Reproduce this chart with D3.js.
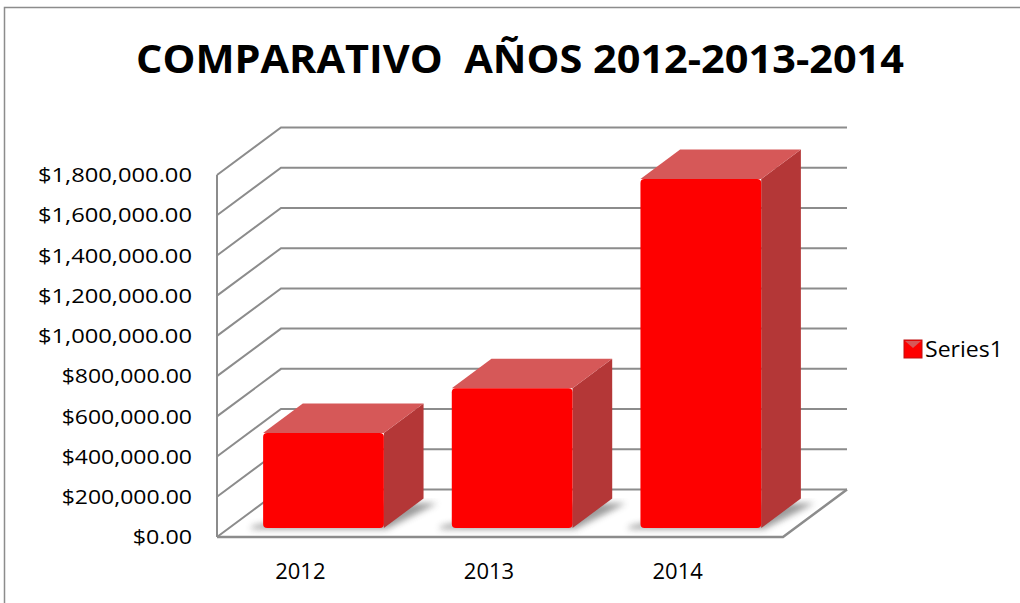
<!DOCTYPE html>
<html>
<head>
<meta charset="utf-8">
<script src="https://cdn.jsdelivr.net/npm/d3@7"></script>
<style>
  body { margin: 0; background: #fff; }
  text { font-family: "Open Sans", "Noto Sans", sans-serif; fill: #000; }
</style>
</head>
<body>
<div id="chart"></div>
<script>
var years = ["2012", "2013", "2014"];
var totals = [472000, 695000, 1735000];
var yTicks = [0, 200000, 400000, 600000, 800000, 1000000, 1200000, 1400000, 1600000, 1800000];
var seriesName = "Series1";
var title = "COMPARATIVO  A\u00d1OS 2012-2013-2014";

var width = 1020, height = 603;

// oblique 3d box: front floor edge, and how far the back wall sits
var left = 217, right = 783, floorY = 537,
    DX = 64, DY = 47.5,
    f0 = 0.19, f1 = 0.81;

var svg = d3.select("#chart").append("svg")
    .attr("width", width)
    .attr("height", height);

var defs = svg.append("defs");
defs.append("filter")
    .attr("id", "blur")
    .attr("x", "-20%").attr("y", "-20%").attr("width", "140%").attr("height", "140%")
  .append("feGaussianBlur")
    .attr("stdDeviation", 3);

// outer frame
svg.append("rect")
    .attr("x", 4.5).attr("y", 7.5)
    .attr("width", width + 10).attr("height", height + 10)
    .attr("fill", "none")
    .attr("stroke", "#8c8c8c")
    .attr("stroke-width", 1.5);

var y = d3.scaleLinear()
    .domain([0, 1800000])
    .range([0, 362]);

var x = d3.scaleBand()
    .domain(years)
    .range([left, right])
    .paddingInner(0.36)
    .paddingOuter(0.18);

function proj(px, v, f) {
  return [px + f * DX, floorY - f * DY - y(v)];
}
function pts(arr) {
  return arr.map(function(p) { return p.join(","); }).join(" ");
}

var format = d3.format("$,.2f");

// gridlines: front-left wall diagonal + back wall horizontal
var grid = svg.append("g")
    .attr("fill", "none")
    .attr("stroke", "#8c8c8c")
    .attr("stroke-width", 2);

grid.selectAll("polyline.grid")
    .data(yTicks)
  .enter().append("polyline")
    .attr("class", "grid")
    .attr("points", function(d) {
      return pts([proj(left, d, 0), proj(left, d, 1), proj(right, d, 1)]);
    });

// left wall front edge
grid.append("line")
    .attr("x1", left).attr("y1", proj(left, 1800000, 0)[1])
    .attr("x2", left).attr("y2", floorY);

// floor front + right edge
grid.append("polyline")
    .attr("stroke-width", 2.5)
    .attr("points", pts([proj(left, 0, 0), proj(right, 0, 0), proj(right, 0, 1)]));

// y labels (stretched to the wide look of the original)
svg.append("g")
  .selectAll("text")
    .data(yTicks)
  .enter().append("text")
    .attr("x", 192)
    .attr("y", function(d) { return floorY - y(d); })
    .attr("dy", "0.36em")
    .attr("text-anchor", "end")
    .style("font-size", "20px")
    .text(format)
    .attr("textLength", function() { return this.textContent.length * 11.85; })
    .attr("lengthAdjust", "spacingAndGlyphs");

// x labels
svg.append("g")
  .selectAll("text")
    .data(years)
  .enter().append("text")
    .attr("x", function(d) { return x(d) + x.bandwidth() / 2 - 11; })
    .attr("y", 571)
    .attr("dy", "0.36em")
    .attr("text-anchor", "middle")
    .style("font-size", "22px")
    .text(function(d) { return d; });

// bars
var bars = svg.append("g")
  .selectAll("g.bar")
    .data(years.map(function(d, i) { return [d, totals[i]]; }))
  .enter().append("g")
    .attr("class", "bar");

bars.append("polygon")
    .attr("fill", "#5a5a5a")
    .attr("opacity", 0.6)
    .attr("filter", "url(#blur)")
    .attr("points", function(d) {
      var a = x(d[0]), b = a + x.bandwidth();
      return pts([proj(a - 12, 0, f0 - 0.02), proj(b + 4, 0, f0 - 0.02), proj(b + 20, 0, f1 - 0.1), proj(b - 30, 0, f1 - 0.1), proj(a - 12, 0, f0 + 0.05)]);
    });

bars.append("polygon")
    .attr("fill", "#b43737")
    .attr("points", function(d) {
      var b = x(d[0]) + x.bandwidth();
      return pts([proj(b, d[1], f0), proj(b, d[1], f1), proj(b, 0, f1), proj(b, 0, f0)]);
    });

bars.append("polygon")
    .attr("fill", "#d65858")
    .attr("points", function(d) {
      var a = x(d[0]), b = a + x.bandwidth();
      return pts([proj(a, d[1], f0), proj(b, d[1], f0), proj(b, d[1], f1), proj(a, d[1], f1)]);
    });

bars.append("rect")
    .attr("fill", "#fe0000")
    .attr("rx", 4)
    .attr("x", function(d) { return proj(x(d[0]), d[1], f0)[0]; })
    .attr("y", function(d) { return proj(x(d[0]), d[1], f0)[1]; })
    .attr("width", x.bandwidth())
    .attr("height", function(d) { return y(d[1]); });

// title
svg.append("text")
    .attr("x", 520)
    .attr("y", 73)
    .attr("text-anchor", "middle")
    .attr("xml:space", "preserve")
    .style("white-space", "pre")
    .style("font-size", "39px")
    .style("font-weight", "bold")
    .attr("textLength", 768)
    .attr("lengthAdjust", "spacingAndGlyphs")
    .text(title);

// legend
var legend = svg.append("g").attr("transform", "translate(904,340)");
legend.append("rect")
    .attr("width", 18).attr("height", 18)
    .attr("fill", "#fe0000")
    .attr("stroke", "#c01010");
legend.append("polygon")
    .attr("fill", "#d65858")
    .attr("points", "1,1 17,1 9,8");
legend.append("text")
    .attr("x", 21)
    .attr("y", 9)
    .attr("dy", "0.36em")
    .style("font-size", "21px")
    .attr("textLength", 78)
    .attr("lengthAdjust", "spacingAndGlyphs")
    .text(seriesName);
</script>
</body>
</html>
